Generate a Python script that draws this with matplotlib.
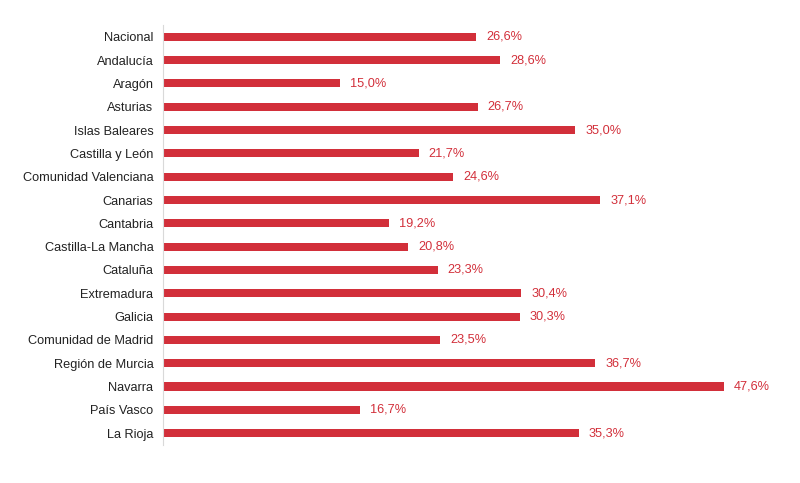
import matplotlib.pyplot as plt

regions = ["Nacional", "Andalucía", "Aragón", "Asturias", "Islas Baleares",
           "Castilla y León", "Comunidad Valenciana", "Canarias", "Cantabria",
           "Castilla-La Mancha", "Cataluña", "Extremadura", "Galicia",
           "Comunidad de Madrid", "Región de Murcia", "Navarra", "País Vasco",
           "La Rioja"]
values = [26.6, 28.6, 15.0, 26.7, 35.0, 21.7, 24.6, 37.1, 19.2, 20.8, 23.3,
          30.4, 30.3, 23.5, 36.7, 47.6, 16.7, 35.3]

red = "#D22F3A"

plt.rcParams["font.family"] = ["Liberation Sans", "DejaVu Sans"]

fig = plt.figure(figsize=(8, 4.83), dpi=100)
ax = fig.add_axes([0.204, 0.079, 0.786, 0.869])

ypos = list(range(len(regions)))
ax.barh(ypos, values, height=0.35, color=red)
for y, v in zip(ypos, values):
    ax.text(v + 0.85, y, f"{v:.1f}%".replace(".", ","), va="center",
            ha="left", color=red, fontsize=9.2)

ax.set_yticks(ypos)
ax.set_yticklabels(regions, fontsize=9.2, color="#222222")
ax.set_ylim(len(regions) - 0.5, -0.5)
ax.set_xlim(0, 53.4)
ax.set_xticks([])
ax.tick_params(axis="y", length=0, pad=7)
for side in ["top", "right", "bottom"]:
    ax.spines[side].set_visible(False)
ax.spines["left"].set_color("#D9D9D9")
ax.spines["left"].set_linewidth(0.8)

fig.savefig("out.png", dpi=100)
